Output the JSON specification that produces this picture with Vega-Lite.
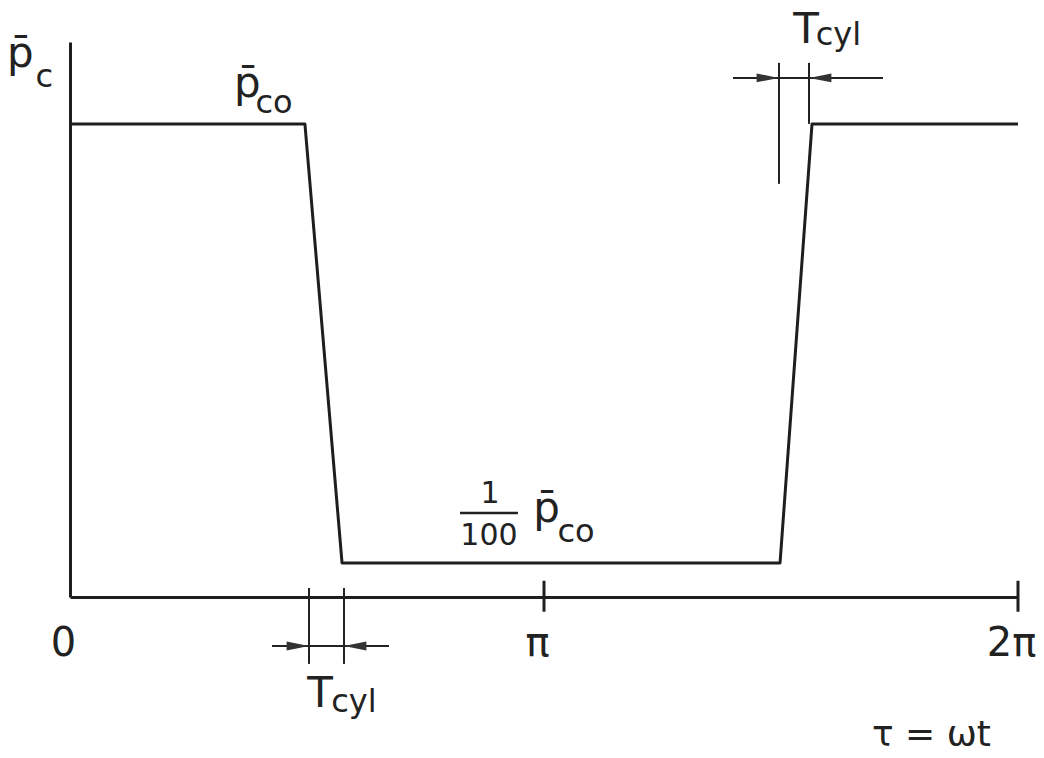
{
  "$schema": "https://vega.github.io/schema/vega-lite/v6.json",
  "width": 948,
  "height": 555,
  "autosize": {"type": "none"},
  "padding": {"left": 70, "top": 42, "right": 26, "bottom": 161},
  "background": "white",
  "config": {
    "view": {"stroke": null},
    "font": "DejaVu Sans",
    "text": {"font": "DejaVu Sans", "color": "#222222"}
  },
  "datasets": {
    "curve": [
      {"tau": 0, "p": 1},
      {"tau": 1.557, "p": 1},
      {"tau": 1.803, "p": 0.01},
      {"tau": 4.706, "p": 0.01},
      {"tau": 4.918, "p": 1},
      {"tau": 6.283, "p": 1}
    ],
    "axisTicks": [
      {"tau": 3.1416, "p": 0.0083, "p2": 0.006},
      {"tau": 6.2832, "p": 0.0083, "p2": 0.006}
    ],
    "dimV": [
      {"tau": 1.584, "p": 0.00769, "p2": 0.00347},
      {"tau": 1.816, "p": 0.00769, "p2": 0.00347},
      {"tau": 4.699, "p": 1.896, "p2": 0.533},
      {"tau": 4.898, "p": 1.896, "p2": 1.0}
    ],
    "dimH": [
      {"tau": 1.339, "tau2": 2.114, "p": 0.00419},
      {"tau": 4.394, "tau2": 5.388, "p": 1.62}
    ],
    "fractionBar": [
      {"tau": 2.585, "tau2": 2.969, "p": 0.0169}
    ],
    "arrowsRight": [
      {"tau": 1.584, "p": 0.00419},
      {"tau": 4.699, "p": 1.62}
    ],
    "arrowsLeft": [
      {"tau": 1.816, "p": 0.00419},
      {"tau": 4.898, "p": 1.62}
    ],
    "bigText": [
      {"tau": -0.33, "p": 1.818, "text": "p̄"},
      {"tau": 1.176, "p": 1.327, "text": "p̄"},
      {"tau": 3.158, "p": 0.01537, "text": "p̄"},
      {"tau": 1.657, "p": 0.002208, "text": "T"},
      {"tau": 4.878, "p": 2.339, "text": "T"}
    ],
    "subText": [
      {"tau": -0.17, "p": 1.474, "text": "c"},
      {"tau": 1.352, "p": 1.122, "text": "co"},
      {"tau": 3.354, "p": 0.01247, "text": "co"},
      {"tau": 1.882, "p": 0.002095, "text": "cyl"},
      {"tau": 5.093, "p": 2.291, "text": "cyl"}
    ],
    "fracText": [
      {"tau": 2.784, "p": 0.01877, "text": "1"},
      {"tau": 2.777, "p": 0.01208, "text": "100"}
    ]
  },
  "encoding": {
    "x": {
      "field": "tau",
      "type": "quantitative",
      "scale": {"domain": [0, 6.28319], "nice": false, "zero": false},
      "axis": {
        "values": [0, 3.14159, 6.28319],
        "labelExpr": "datum.value < 1 ? '0' : (datum.value < 4 ? 'π' : '2π')",
        "grid": false,
        "ticks": false,
        "tickSize": 0,
        "domainColor": "#1e1e1e",
        "domainWidth": 3,
        "labelFont": "DejaVu Sans",
        "labelFontSize": 40,
        "labelColor": "#222222",
        "labelPadding": 26,
        "labelOffset": -7,
        "labelFlush": false,
        "labelOverlap": false,
        "labelBound": false,
        "title": "τ = ωt",
        "titleFont": "DejaVu Sans",
        "titleFontSize": 36,
        "titleFontWeight": "normal",
        "titleColor": "#222222",
        "titleX": 861,
        "titleY": 148,
        "titleAlign": "center",
        "titleBaseline": "alphabetic"
      }
    },
    "y": {
      "field": "p",
      "type": "quantitative",
      "scale": {"type": "log", "domain": [0.007, 2.36], "nice": false},
      "axis": {
        "grid": false,
        "ticks": false,
        "labels": false,
        "title": null,
        "domainColor": "#1e1e1e",
        "domainWidth": 3
      }
    }
  },
  "layer": [
    {
      "data": {"name": "curve"},
      "mark": {"type": "line", "color": "#1e1e1e", "strokeWidth": 3, "strokeJoin": "round"}
    },
    {
      "data": {"name": "axisTicks"},
      "mark": {"type": "rule", "color": "#1e1e1e", "strokeWidth": 3},
      "encoding": {"y2": {"field": "p2"}}
    },
    {
      "data": {"name": "dimV"},
      "mark": {"type": "rule", "color": "#222222", "strokeWidth": 2},
      "encoding": {"y2": {"field": "p2"}}
    },
    {
      "data": {"name": "dimH"},
      "mark": {"type": "rule", "color": "#222222", "strokeWidth": 2},
      "encoding": {"x2": {"field": "tau2"}}
    },
    {
      "data": {"name": "fractionBar"},
      "mark": {"type": "rule", "color": "#222222", "strokeWidth": 2.5},
      "encoding": {"x2": {"field": "tau2"}}
    },
    {
      "data": {"name": "arrowsRight"},
      "mark": {"type": "point", "shape": "M0,0L-1,-0.2L-1,0.2Z", "size": 2000, "filled": true, "color": "#333333", "opacity": 1}
    },
    {
      "data": {"name": "arrowsLeft"},
      "mark": {"type": "point", "shape": "M0,0L1,-0.2L1,0.2Z", "size": 2000, "filled": true, "color": "#333333", "opacity": 1}
    },
    {
      "data": {"name": "bigText"},
      "mark": {"type": "text", "fontSize": 42, "align": "center", "baseline": "alphabetic"},
      "encoding": {"text": {"field": "text"}}
    },
    {
      "data": {"name": "subText"},
      "mark": {"type": "text", "fontSize": 32, "align": "center", "baseline": "alphabetic"},
      "encoding": {"text": {"field": "text"}}
    },
    {
      "data": {"name": "fracText"},
      "mark": {"type": "text", "fontSize": 30, "align": "center", "baseline": "alphabetic"},
      "encoding": {"text": {"field": "text"}}
    }
  ]
}
